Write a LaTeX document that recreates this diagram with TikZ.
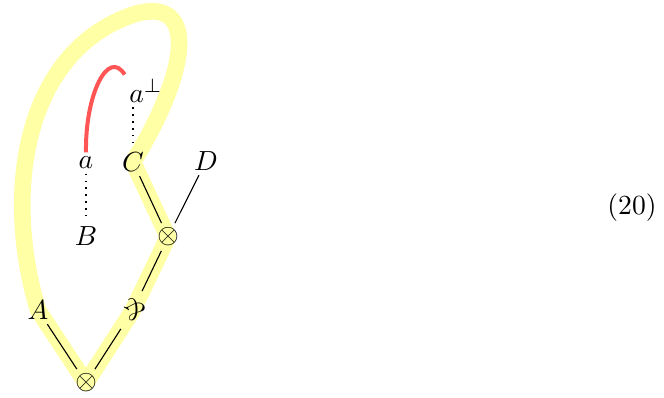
\documentclass[tikz,border=0pt]{standalone}
\usepackage{graphicx}
\pgfdeclarelayer{background}
\pgfsetlayers{background,main}
\definecolor{hl}{RGB}{255,255,165}
\definecolor{arc}{RGB}{255,85,85}
\tikzset{
  lbl/.style={inner sep=1.5pt},
  edge/.style={draw=black, line width=0.4pt},
  dots/.style={draw=black, dotted, line width=0.5pt},
  hlpath/.style={draw=hl, line width=6pt, line join=round, line cap=round},
}
\begin{document}
\begin{tikzpicture}[x=0.362pt,y=-0.362pt]
\useasboundingbox (0,0) rectangle (664,397);
\node[lbl] (a) at (86,163) {$a$};
\node[lbl] (ap) at (146,91) {$a^{\perp}$};
\node[lbl] (C) at (133,162) {$C$};
\node[lbl] (D) at (206,161) {$D$};
\node[lbl] (B) at (86,236) {$B$};
\node[lbl] (t) at (168,237) {$\otimes$};
\node[lbl] (p) at (133,310) {\rotatebox[origin=c]{150}{\&}};
\node[lbl] (A) at (38,310) {$A$};
\node[lbl] (b) at (86,383) {$\otimes$};
\node (eq) at (632,208) {(20)};
\begin{pgfonlayer}{background}
\path[hlpath] (b.center) -- (A.center)
  .. controls (2,190) and (25,50) .. (135,14)
  .. controls (198,-4) and (190,70) .. (C.center)
  -- (t.center) -- (p.center) -- cycle;
\end{pgfonlayer}
\draw[arc, line width=1.45pt] (a.north) .. controls (85,95) and (108,48) .. (ap.north west);
\path[dots] (a) -- (B);
\path[dots] (ap.south -| C) -- (C);
\path[edge] (A) -- (b);
\path[edge] (b) -- (p);
\path[edge] (p) -- (t);
\path[edge] (C) -- (t);
\path[edge] (D) -- (t);
\end{tikzpicture}
\end{document}
